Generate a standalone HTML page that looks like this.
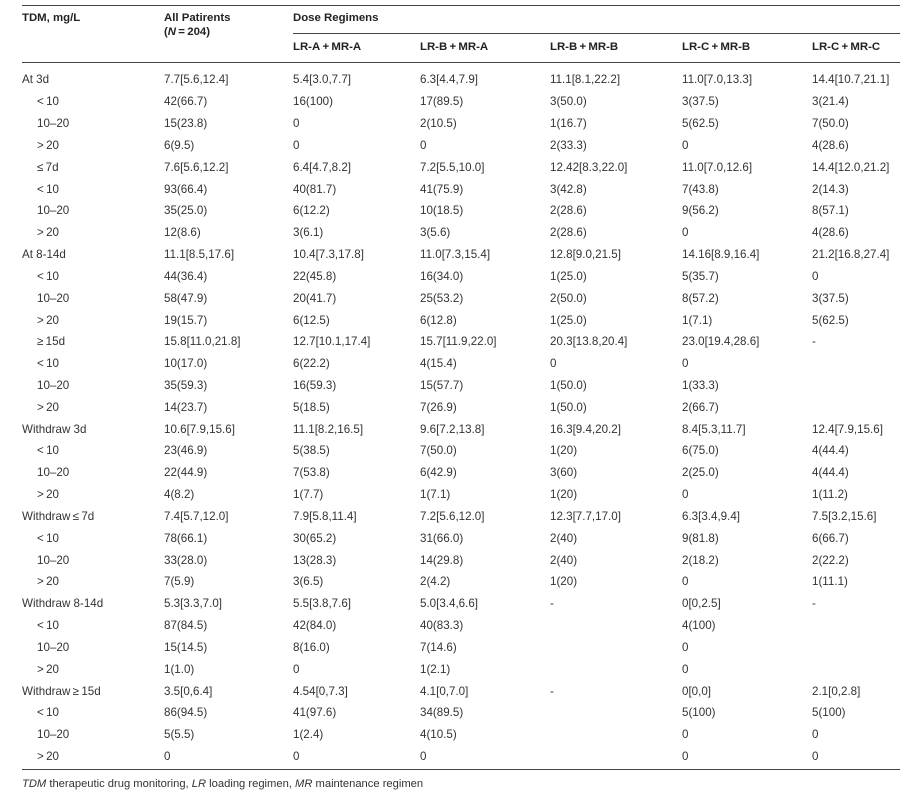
<!DOCTYPE html>
<html><head><meta charset="utf-8"><style>
body{margin:0;width:913px;height:796px;background:#fff;font-family:"Liberation Sans",sans-serif;color:#333;font-size:11.6px;position:relative;overflow:hidden}
.l{position:absolute;background:#444;height:1.3px}
.h{position:absolute;font-weight:bold;font-size:11.4px;color:#222;white-space:nowrap}
table{position:absolute;left:22px;top:69.5px;border-collapse:collapse;table-layout:fixed;width:878px}
td{height:21.84px;padding:0;white-space:nowrap;vertical-align:middle;line-height:12px}
tr.s td:first-child{padding-left:15px}
.f{position:absolute;left:22px;top:778px;font-size:11.2px;color:#333}
</style></head><body>
<div class="l" style="left:22px;top:5px;width:878px"></div>
<div class="l" style="left:293px;top:33px;width:607px;height:1px"></div>
<div class="l" style="left:22px;top:62px;width:878px"></div>
<div class="l" style="left:22px;top:769px;width:878px"></div>
<div class="h" style="left:22px;top:12px">TDM, mg/L</div>
<div class="h" style="left:164px;top:12px">All Patirents</div>
<div class="h" style="left:164px;top:26px">(<i>N</i>&thinsp;=&thinsp;204)</div>
<div class="h" style="left:293px;top:12px">Dose Regimens</div>
<div class="h" style="left:293px;top:41px">LR-A&thinsp;+&thinsp;MR-A</div>
<div class="h" style="left:420px;top:41px">LR-B&thinsp;+&thinsp;MR-A</div>
<div class="h" style="left:550px;top:41px">LR-B&thinsp;+&thinsp;MR-B</div>
<div class="h" style="left:682px;top:41px">LR-C&thinsp;+&thinsp;MR-B</div>
<div class="h" style="left:812px;top:41px">LR-C&thinsp;+&thinsp;MR-C</div>
<table>
<colgroup><col style="width:142px"><col style="width:129px"><col style="width:127px"><col style="width:130px"><col style="width:132px"><col style="width:130px"><col style="width:88px"></colgroup>
<tr><td>At 3d</td><td>7.7[5.6,12.4]</td><td>5.4[3.0,7.7]</td><td>6.3[4.4,7.9]</td><td>11.1[8.1,22.2]</td><td>11.0[7.0,13.3]</td><td>14.4[10.7,21.1]</td></tr>
<tr class="s"><td>&lt;&thinsp;10</td><td>42(66.7)</td><td>16(100)</td><td>17(89.5)</td><td>3(50.0)</td><td>3(37.5)</td><td>3(21.4)</td></tr>
<tr class="s"><td>10–20</td><td>15(23.8)</td><td>0</td><td>2(10.5)</td><td>1(16.7)</td><td>5(62.5)</td><td>7(50.0)</td></tr>
<tr class="s"><td>&gt;&thinsp;20</td><td>6(9.5)</td><td>0</td><td>0</td><td>2(33.3)</td><td>0</td><td>4(28.6)</td></tr>
<tr class="s"><td>≤&thinsp;7d</td><td>7.6[5.6,12.2]</td><td>6.4[4.7,8.2]</td><td>7.2[5.5,10.0]</td><td>12.42[8.3,22.0]</td><td>11.0[7.0,12.6]</td><td>14.4[12.0,21.2]</td></tr>
<tr class="s"><td>&lt;&thinsp;10</td><td>93(66.4)</td><td>40(81.7)</td><td>41(75.9)</td><td>3(42.8)</td><td>7(43.8)</td><td>2(14.3)</td></tr>
<tr class="s"><td>10–20</td><td>35(25.0)</td><td>6(12.2)</td><td>10(18.5)</td><td>2(28.6)</td><td>9(56.2)</td><td>8(57.1)</td></tr>
<tr class="s"><td>&gt;&thinsp;20</td><td>12(8.6)</td><td>3(6.1)</td><td>3(5.6)</td><td>2(28.6)</td><td>0</td><td>4(28.6)</td></tr>
<tr><td>At 8-14d</td><td>11.1[8.5,17.6]</td><td>10.4[7.3,17.8]</td><td>11.0[7.3,15.4]</td><td>12.8[9.0,21.5]</td><td>14.16[8.9,16.4]</td><td>21.2[16.8,27.4]</td></tr>
<tr class="s"><td>&lt;&thinsp;10</td><td>44(36.4)</td><td>22(45.8)</td><td>16(34.0)</td><td>1(25.0)</td><td>5(35.7)</td><td>0</td></tr>
<tr class="s"><td>10–20</td><td>58(47.9)</td><td>20(41.7)</td><td>25(53.2)</td><td>2(50.0)</td><td>8(57.2)</td><td>3(37.5)</td></tr>
<tr class="s"><td>&gt;&thinsp;20</td><td>19(15.7)</td><td>6(12.5)</td><td>6(12.8)</td><td>1(25.0)</td><td>1(7.1)</td><td>5(62.5)</td></tr>
<tr class="s"><td>≥&thinsp;15d</td><td>15.8[11.0,21.8]</td><td>12.7[10.1,17.4]</td><td>15.7[11.9,22.0]</td><td>20.3[13.8,20.4]</td><td>23.0[19.4,28.6]</td><td>-</td></tr>
<tr class="s"><td>&lt;&thinsp;10</td><td>10(17.0)</td><td>6(22.2)</td><td>4(15.4)</td><td>0</td><td>0</td><td></td></tr>
<tr class="s"><td>10–20</td><td>35(59.3)</td><td>16(59.3)</td><td>15(57.7)</td><td>1(50.0)</td><td>1(33.3)</td><td></td></tr>
<tr class="s"><td>&gt;&thinsp;20</td><td>14(23.7)</td><td>5(18.5)</td><td>7(26.9)</td><td>1(50.0)</td><td>2(66.7)</td><td></td></tr>
<tr><td>Withdraw 3d</td><td>10.6[7.9,15.6]</td><td>11.1[8.2,16.5]</td><td>9.6[7.2,13.8]</td><td>16.3[9.4,20.2]</td><td>8.4[5.3,11.7]</td><td>12.4[7.9,15.6]</td></tr>
<tr class="s"><td>&lt;&thinsp;10</td><td>23(46.9)</td><td>5(38.5)</td><td>7(50.0)</td><td>1(20)</td><td>6(75.0)</td><td>4(44.4)</td></tr>
<tr class="s"><td>10–20</td><td>22(44.9)</td><td>7(53.8)</td><td>6(42.9)</td><td>3(60)</td><td>2(25.0)</td><td>4(44.4)</td></tr>
<tr class="s"><td>&gt;&thinsp;20</td><td>4(8.2)</td><td>1(7.7)</td><td>1(7.1)</td><td>1(20)</td><td>0</td><td>1(11.2)</td></tr>
<tr><td>Withdraw&thinsp;≤&thinsp;7d</td><td>7.4[5.7,12.0]</td><td>7.9[5.8,11.4]</td><td>7.2[5.6,12.0]</td><td>12.3[7.7,17.0]</td><td>6.3[3.4,9.4]</td><td>7.5[3.2,15.6]</td></tr>
<tr class="s"><td>&lt;&thinsp;10</td><td>78(66.1)</td><td>30(65.2)</td><td>31(66.0)</td><td>2(40)</td><td>9(81.8)</td><td>6(66.7)</td></tr>
<tr class="s"><td>10–20</td><td>33(28.0)</td><td>13(28.3)</td><td>14(29.8)</td><td>2(40)</td><td>2(18.2)</td><td>2(22.2)</td></tr>
<tr class="s"><td>&gt;&thinsp;20</td><td>7(5.9)</td><td>3(6.5)</td><td>2(4.2)</td><td>1(20)</td><td>0</td><td>1(11.1)</td></tr>
<tr><td>Withdraw 8-14d</td><td>5.3[3.3,7.0]</td><td>5.5[3.8,7.6]</td><td>5.0[3.4,6.6]</td><td>-</td><td>0[0,2.5]</td><td>-</td></tr>
<tr class="s"><td>&lt;&thinsp;10</td><td>87(84.5)</td><td>42(84.0)</td><td>40(83.3)</td><td></td><td>4(100)</td><td></td></tr>
<tr class="s"><td>10–20</td><td>15(14.5)</td><td>8(16.0)</td><td>7(14.6)</td><td></td><td>0</td><td></td></tr>
<tr class="s"><td>&gt;&thinsp;20</td><td>1(1.0)</td><td>0</td><td>1(2.1)</td><td></td><td>0</td><td></td></tr>
<tr><td>Withdraw&thinsp;≥&thinsp;15d</td><td>3.5[0,6.4]</td><td>4.54[0,7.3]</td><td>4.1[0,7.0]</td><td>-</td><td>0[0,0]</td><td>2.1[0,2.8]</td></tr>
<tr class="s"><td>&lt;&thinsp;10</td><td>86(94.5)</td><td>41(97.6)</td><td>34(89.5)</td><td></td><td>5(100)</td><td>5(100)</td></tr>
<tr class="s"><td>10–20</td><td>5(5.5)</td><td>1(2.4)</td><td>4(10.5)</td><td></td><td>0</td><td>0</td></tr>
<tr class="s"><td>&gt;&thinsp;20</td><td>0</td><td>0</td><td>0</td><td></td><td>0</td><td>0</td></tr>
</table>
<div class="f"><i>TDM</i> therapeutic drug monitoring, <i>LR</i> loading regimen, <i>MR</i> maintenance regimen</div>
</body></html>
